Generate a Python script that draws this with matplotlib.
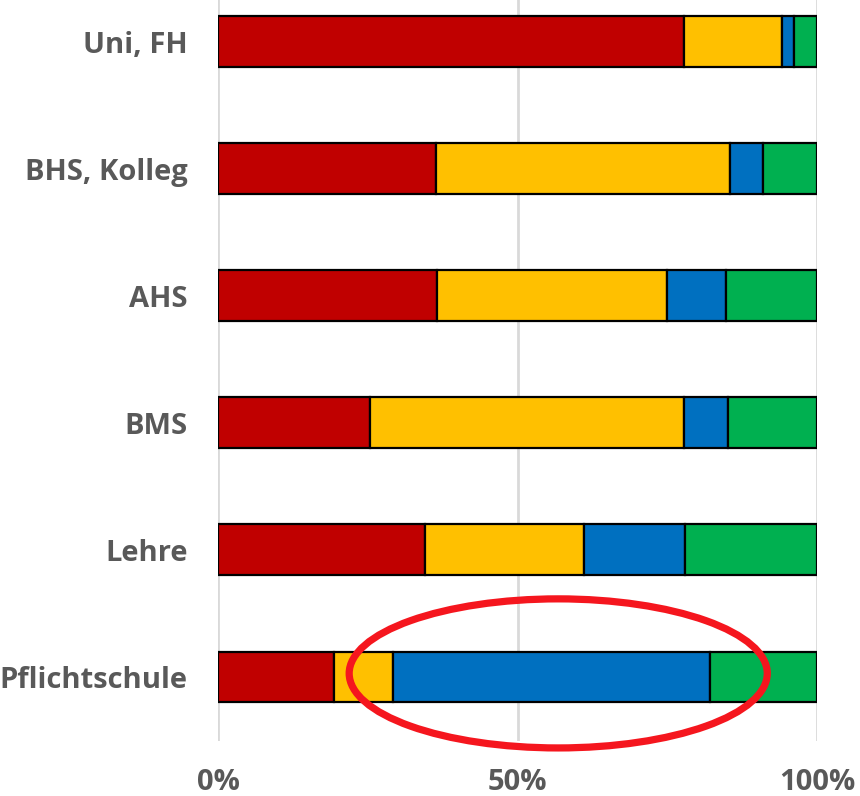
import matplotlib
matplotlib.use("Agg")
import matplotlib.pyplot as plt
from matplotlib.patches import Ellipse
import numpy as np

# Education levels (top to bottom) and shares per segment (in %)
categories = ["Uni, FH", "BHS, Kolleg", "AHS", "BMS", "Lehre", "Pflichtschule"]
red_share = [77.8, 36.4, 36.6, 25.4, 34.6, 19.4]
yellow_share = [16.4, 49.1, 38.4, 52.4, 26.5, 9.8]
blue_share = [2.0, 5.5, 9.8, 7.3, 16.9, 52.9]
green_share = [3.8, 9.0, 15.2, 14.9, 22.0, 17.9]
x_ticks = [0, 50, 100]
x_tick_labels = ["0%", "50%", "100%"]

colors = ["#C00000", "#FFC000", "#0070C0", "#00B050"]
text_color = "#595959"

fig = plt.figure(figsize=(8.6, 7.96), dpi=100)
ax = fig.add_axes([218 / 860, 1 - 740.5 / 796, 599 / 860, 762.5 / 796])

y = np.arange(len(categories))
left = np.zeros(len(categories))
for vals, c in zip([red_share, yellow_share, blue_share, green_share], colors):
    vals = np.array(vals)
    ax.barh(y, vals, left=left, height=0.40, color=c,
            edgecolor="black", linewidth=1.6, zorder=3)
    left += vals

ax.set_xlim(0, 100)
ax.set_ylim(len(categories) - 0.5, -0.5)

ax.set_xticks(x_ticks)
ax.set_xticklabels(x_tick_labels)
ax.set_yticks(y)
ax.set_yticklabels(categories)
ax.grid(axis="x", color="#d9d9d9", linewidth=2, zorder=0)
ax.set_axisbelow(True)
for s in ax.spines.values():
    s.set_visible(False)
ax.tick_params(length=0)
ax.tick_params(axis="y", pad=22)
ax.tick_params(axis="x", pad=20)
for lbl in ax.get_yticklabels() + ax.get_xticklabels():
    lbl.set_fontfamily("Open Sans")
    lbl.set_fontweight("bold")
    lbl.set_fontsize(21)
    lbl.set_color(text_color)

# Highlight around the Pflichtschule bar
ax.add_patch(Ellipse((56.8, 4.972), 69.8, 1.173, fill=False,
                     edgecolor="#F5161E", linewidth=5.2, zorder=5,
                     clip_on=False))

fig.savefig("out.png", dpi=100)
